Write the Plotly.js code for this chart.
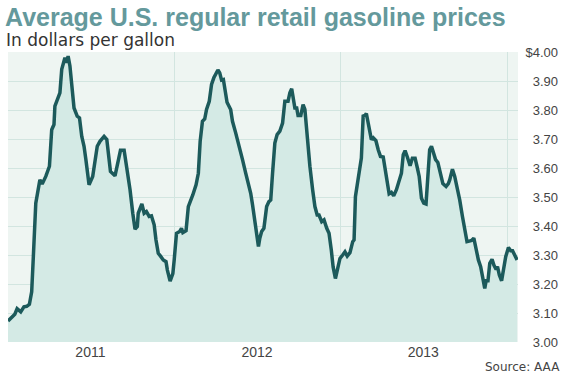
<!DOCTYPE html>
<html><head><meta charset="utf-8">
<script src="https://cdn.plot.ly/plotly-3.0.1.min.js"></script>
<style>html,body{margin:0;padding:0;background:#fff}</style>
</head><body><div id="chart" style="width:563px;height:382px"></div>
<script>
const dates = [
'2011-01-01','2011-01-09','2011-01-16','2011-01-21','2011-01-29','2011-02-05','2011-02-11','2011-02-17','2011-02-22','2011-02-26',
'2011-03-03','2011-03-12','2011-03-17','2011-03-25','2011-04-02','2011-04-07','2011-04-12','2011-04-14','2011-04-19','2011-04-25',
'2011-04-29','2011-05-06','2011-05-10','2011-05-13','2011-05-17','2011-05-21','2011-05-26','2011-06-02','2011-06-07','2011-06-12',
'2011-06-17','2011-06-21','2011-06-28','2011-07-06','2011-07-11','2011-07-16','2011-07-22','2011-07-31','2011-08-06','2011-08-14',
'2011-08-24','2011-08-31','2011-09-05','2011-09-13','2011-09-19','2011-09-26','2011-10-02','2011-10-07','2011-10-12','2011-10-14',
'2011-10-22','2011-10-27','2011-11-01','2011-11-07','2011-11-12','2011-11-18','2011-11-22','2011-11-27','2011-12-02','2011-12-08',
'2011-12-14','2011-12-17','2011-12-23','2011-12-29','2012-01-01','2012-01-06','2012-01-13','2012-01-17','2012-01-20','2012-01-27',
'2012-02-01','2012-02-06','2012-02-11','2012-02-18','2012-02-23','2012-02-27','2012-03-03','2012-03-08','2012-03-12','2012-03-18',
'2012-03-23','2012-03-28','2012-04-03','2012-04-06','2012-04-10','2012-04-14','2012-04-18','2012-04-21','2012-04-26','2012-05-04',
'2012-05-08','2012-05-15','2012-05-23','2012-05-30','2012-06-06','2012-06-12','2012-06-17','2012-06-21','2012-06-26','2012-06-30',
'2012-07-04','2012-07-07','2012-07-11','2012-07-16','2012-07-22','2012-07-27','2012-07-31','2012-08-04','2012-08-09','2012-08-14',
'2012-08-20','2012-08-26','2012-08-31','2012-09-07','2012-09-11','2012-09-15','2012-09-18','2012-09-22','2012-09-26','2012-09-29',
'2012-10-05','2012-10-10','2012-10-14','2012-10-19','2012-10-25','2012-10-31','2012-11-05','2012-11-10','2012-11-14','2012-11-20',
'2012-11-25','2012-12-01','2012-12-06','2012-12-11','2012-12-15','2012-12-20','2012-12-25','2012-12-30','2013-01-05','2013-01-10',
'2013-01-15','2013-01-21','2013-01-27','2013-01-30','2013-02-02','2013-02-08','2013-02-15','2013-02-19','2013-02-23','2013-02-26',
'2013-03-04','2013-03-09','2013-03-13','2013-03-19','2013-03-24','2013-03-29','2013-04-04','2013-04-10','2013-04-17','2013-04-22',
'2013-04-27','2013-05-03','2013-05-09','2013-05-14','2013-05-18','2013-05-22','2013-05-27','2013-06-02','2013-06-07','2013-06-13',
'2013-06-18','2013-06-22','2013-06-27','2013-07-02','2013-07-07','2013-07-12','2013-07-15','2013-07-19','2013-07-24','2013-07-28',
'2013-08-02','2013-08-08','2013-08-13','2013-08-20','2013-08-25','2013-08-28','2013-09-03','2013-09-08','2013-09-13','2013-09-19',
'2013-09-25','2013-09-30','2013-10-05','2013-10-10','2013-10-15','2013-10-20','2013-10-24','2013-10-30','2013-11-04','2013-11-09',
'2013-11-13','2013-11-16','2013-11-20','2013-11-24','2013-11-29','2013-12-03','2013-12-08','2013-12-11','2013-12-15','2013-12-20',
'2013-12-25','2013-12-29','2014-01-04','2014-01-09','2014-01-13','2014-01-18','2014-01-23'
];
const prices = [
3.072,3.087,3.096,3.115,3.104,3.121,3.123,3.130,3.173,3.306,
3.479,3.559,3.545,3.571,3.606,3.732,3.750,3.813,3.836,3.859,
3.940,3.980,3.963,3.986,3.952,3.871,3.807,3.779,3.773,3.709,
3.675,3.629,3.542,3.571,3.634,3.675,3.692,3.709,3.698,3.588,
3.573,3.629,3.661,3.661,3.606,3.525,3.444,3.389,3.398,3.444,
3.476,3.444,3.450,3.433,3.435,3.404,3.352,3.306,3.296,3.283,
3.277,3.248,3.210,3.236,3.283,3.375,3.381,3.392,3.377,3.384,
3.467,3.484,3.508,3.542,3.582,3.692,3.761,3.769,3.802,3.830,
3.888,3.911,3.928,3.938,3.928,3.903,3.905,3.871,3.827,3.802,
3.761,3.721,3.675,3.629,3.582,3.542,3.513,3.473,3.421,3.375,
3.329,3.358,3.381,3.392,3.467,3.484,3.490,3.582,3.686,3.715,
3.727,3.755,3.830,3.830,3.859,3.873,3.842,3.807,3.807,3.781,
3.781,3.819,3.802,3.709,3.606,3.525,3.467,3.438,3.438,3.415,
3.421,3.392,3.375,3.317,3.259,3.219,3.248,3.288,3.300,3.311,
3.296,3.308,3.346,3.352,3.502,3.559,3.634,3.779,3.781,3.788,
3.742,3.698,3.704,3.694,3.663,3.640,3.638,3.577,3.511,3.516,
3.504,3.525,3.559,3.582,3.646,3.660,3.638,3.608,3.634,3.634,
3.600,3.571,3.496,3.479,3.476,3.606,3.663,3.675,3.646,3.629,
3.619,3.585,3.546,3.536,3.546,3.559,3.596,3.571,3.536,3.490,
3.433,3.386,3.346,3.348,3.350,3.358,3.323,3.283,3.260,3.208,
3.185,3.211,3.211,3.271,3.285,3.265,3.250,3.260,3.231,3.211,
3.260,3.294,3.326,3.315,3.315,3.296,3.283
];
const yTickVals = [3.0,3.1,3.2,3.3,3.4,3.5,3.6,3.7,3.8,3.9,4.0];
const yTickText = ['3.00','3.10','3.20','3.30','3.40','3.50','3.60','3.70','3.80','3.90','$4.00'];
const yearTickVals = ['2011-07-01','2012-07-01','2013-07-01'];
const yearTickText = ['2011','2012','2013'];
const yearGridVals = ['2011-01-01','2012-01-01','2013-01-01','2014-01-01'];

const trace = {
  type: 'scatter', mode: 'lines', x: dates, y: prices,
  line: {color: '#1c5a5b', width: 3.5},
  fill: 'tozeroy', fillcolor: '#d4eae5',
  hoverinfo: 'skip'
};

const layout = {
  width: 563, height: 382,
  margin: {l: 8, r: 5, t: 52, b: 40},
  paper_bgcolor: '#ffffff', plot_bgcolor: '#eef5f2',
  showlegend: false,
  title: {
    text: 'Average U.S. regular retail gasoline prices',
    font: {family: 'Liberation Sans, Arial, sans-serif', size: 25, color: '#64999c', weight: 'bold'},
    x: 5/563, xref: 'container', xanchor: 'left',
    y: 1 - 17/382, yref: 'container', yanchor: 'middle'
  },
  xaxis: {
    type: 'date', range: ['2011-01-01', '2014-01-25'], domain: [0, 510/550],
    tickmode: 'array', tickvals: yearTickVals, ticktext: yearTickText,
    showgrid: false, zeroline: false, showline: false, ticks: '',
    tickfont: {family: 'Liberation Sans', size: 14, color: '#444'},
    minor: {tickmode: 'array', tickvals: yearGridVals, showgrid: true, gridcolor: '#d2e5e0', gridwidth: 1, ticks: ''},
    fixedrange: true
  },
  yaxis: {
    range: [3, 4], tickmode: 'array', tickvals: yTickVals, ticktext: yTickText,
    anchor: 'free', position: 1, side: 'left', automargin: false,
    showgrid: true, gridcolor: '#d2e5e0', gridwidth: 1, zeroline: false, showline: false, ticks: '',
    tickfont: {family: 'Liberation Sans', size: 13, color: '#444'},
    fixedrange: true
  },
  annotations: [
    {text: 'In dollars per gallon', xref: 'paper', yref: 'paper', x: -4/550, y: (342-40)/290,
     xanchor: 'left', yanchor: 'middle', showarrow: false,
     font: {family: 'DejaVu Sans', size: 17, color: '#333'}},
    {text: 'Source: AAA', xref: 'paper', yref: 'paper', x: 554/550, y: (342-367)/290,
     xanchor: 'right', yanchor: 'middle', showarrow: false,
     font: {family: 'DejaVu Sans', size: 12, color: '#444'}}
  ]
};

Plotly.newPlot('chart', [trace], layout, {displayModeBar: false, staticPlot: true});
</script>
</body></html>
